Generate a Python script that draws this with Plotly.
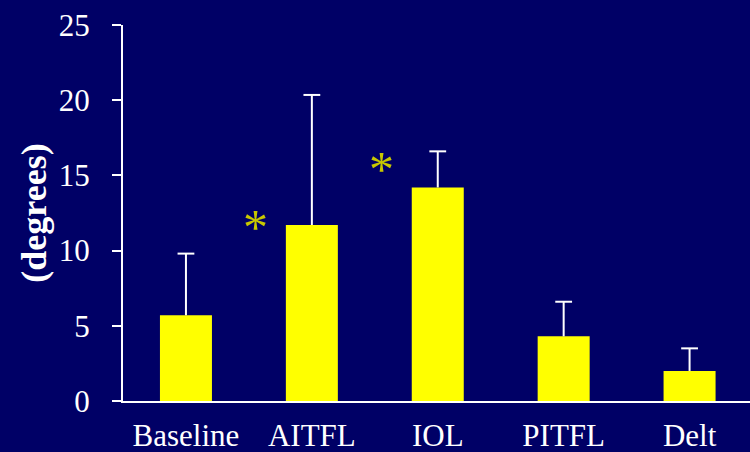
import plotly.graph_objects as go

# Mean angle (degrees) per condition with upper standard deviation
categories = ["Baseline", "AITFL", "IOL", "PITFL", "Delt"]
means = [5.7, 11.7, 14.2, 4.3, 2.0]
sd_upper = [4.1, 8.65, 2.4, 2.3, 1.5]

# Significance markers (x in category units, y in degrees)
sig_x = [0.55, 1.555]
sig_y = [11.6, 15.4]

BG = "#000066"
FONT = "Liberation Serif"
xpos = list(range(len(categories)))
tops = [m + s for m, s in zip(means, sd_upper)]

fig = go.Figure()
fig.add_trace(
    go.Bar(
        x=xpos,
        y=means,
        marker=dict(color="#FFFF00", line=dict(width=0)),
    )
)
# Upward-only whiskers: stem from the bar top, cap at mean + SD
fig.add_trace(
    go.Scatter(
        x=xpos,
        y=means,
        mode="markers",
        marker=dict(size=1, color="rgba(0,0,0,0)"),
        error_y=dict(
            type="data",
            array=sd_upper,
            arrayminus=[0] * len(sd_upper),
            symmetric=False,
            color="white",
            thickness=2,
            width=0,
        ),
    )
)
fig.add_trace(
    go.Scatter(
        x=xpos,
        y=tops,
        mode="markers",
        marker=dict(symbol="line-ew", size=12, line=dict(color="white", width=2)),
    )
)

for sx, sy in zip(sig_x, sig_y):
    fig.add_annotation(
        x=sx, y=sy, xref="x", yref="y", text="*", showarrow=False,
        font=dict(family=FONT, size=50, color="#C8C800"),
        xanchor="center", yanchor="middle",
    )

fig.update_layout(
    width=750,
    height=452,
    margin=dict(l=123, r=0, t=25, b=51),
    paper_bgcolor=BG,
    plot_bgcolor=BG,
    bargap=0.587,
    showlegend=False,
    font=dict(family=FONT, color="white", size=31),
    xaxis=dict(
        range=[-0.5, 4.48],
        tickmode="array",
        tickvals=xpos,
        ticktext=categories,
        showline=True,
        linecolor="white",
        linewidth=2,
        ticks="",
        showgrid=False,
        zeroline=False,
        automargin=False,
        tickfont=dict(family=FONT, size=31, color="white"),
        ticklabelstandoff=6,
    ),
    yaxis=dict(
        range=[0, 25],
        dtick=5,
        ticks="outside",
        ticklen=9,
        tickwidth=2,
        tickcolor="white",
        showline=True,
        linecolor="white",
        linewidth=2,
        showgrid=False,
        zeroline=False,
        automargin=False,
        tickfont=dict(family=FONT, size=31, color="white"),
        ticklabelstandoff=16,
        title=dict(
            text="<b>(degrees)</b>",
            font=dict(family=FONT, size=36, color="white"),
            standoff=1,
        ),
    ),
)

fig.write_html("out.html")
